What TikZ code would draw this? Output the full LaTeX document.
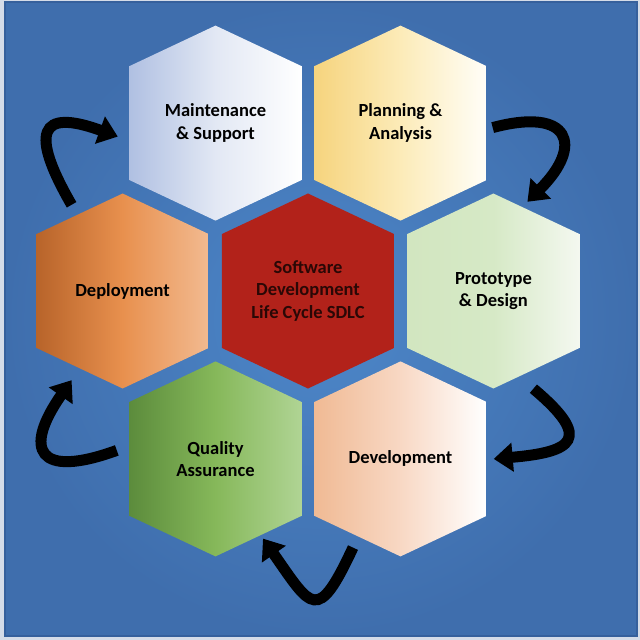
\documentclass[tikz,border=0pt]{standalone}
\usepackage{fontspec}
\setmainfont{Carlito}
\usetikzlibrary{positioning,calc,arrows.meta}

\definecolor{framegray}{HTML}{D5DCE8}
\definecolor{bginner}{HTML}{4D87C9}
\definecolor{bgouter}{HTML}{3F6EAD}
\definecolor{bgline}{HTML}{36609C}
\definecolor{sdlcred}{HTML}{B2221A}
\definecolor{sdlctext}{HTML}{2A0806}
\definecolor{deployL}{HTML}{B8642A}
\definecolor{deployM}{HTML}{E8904E}
\definecolor{deployR}{HTML}{F2BA90}
\definecolor{protoL}{HTML}{D2E6C0}
\definecolor{protoM}{HTML}{D6E9C6}
\definecolor{protoR}{HTML}{F4F8F0}
\definecolor{maintL}{HTML}{B0C0E2}
\definecolor{maintM}{HTML}{E2E8F4}
\definecolor{planL}{HTML}{F6D47E}
\definecolor{planM}{HTML}{FCEBB8}
\definecolor{planR}{HTML}{FFFEF8}
\definecolor{qaL}{HTML}{5C8C3C}
\definecolor{qaM}{HTML}{86B85A}
\definecolor{qaR}{HTML}{B0D494}
\definecolor{devL}{HTML}{F0BA94}
\definecolor{devM}{HTML}{F8D8C4}

\tikzset{
  hexcell/.style n args={3}{minimum width=172pt, minimum height=195pt,
    inner sep=0pt, align=center, text=black,
    font=\bfseries\fontsize{18.5}{22.5}\selectfont,
    path picture={\shade[left color=#1, right color=#3, middle color=#2]
      (path picture bounding box.north)
      -- ([yshift=-40.5pt]path picture bounding box.north east)
      -- ([yshift=40.5pt]path picture bounding box.south east)
      -- (path picture bounding box.south)
      -- ([yshift=40.5pt]path picture bounding box.south west)
      -- ([yshift=-40.5pt]path picture bounding box.north west) -- cycle;}},
  cyclearrow/.style={line width=11pt, black, -{Triangle[length=19pt,width=28pt]}},
}

\begin{document}
\begin{tikzpicture}[x=1pt, y=1pt]
    % background
    \useasboundingbox (-308,-349) rectangle (332,291);
    \fill[framegray] (-308,-349) rectangle (332,291);
    \shade[inner color=bginner, outer color=bgouter, draw=bgline, line width=1.5pt]
      (-303,-345) rectangle (329,289);

    % center
    \node[hexcell={sdlcred}{sdlcred}{sdlcred}, text=sdlctext] (sdlc) at (0,0)
      {Software\\Development\\Life Cycle SDLC};
    % middle row
    \node[hexcell={deployL}{deployM}{deployR}, left=13pt of sdlc] (deploy) {Deployment};
    \node[hexcell={protoL}{protoM}{protoR}, right=13pt of sdlc] (proto) {Prototype\\\& Design};
    % top row
    \node[hexcell={maintL}{maintM}{white}, above=-27.5pt of sdlc, xshift=-92.5pt] (maint) {Maintenance\\\& Support};
    \node[hexcell={planL}{planM}{planR}, above=-27.5pt of sdlc, xshift=92.5pt] (plan) {Planning \&\\Analysis};
    % bottom row
    \node[hexcell={qaL}{qaM}{qaR}, below=-27.5pt of sdlc, xshift=-92.5pt] (qa) {Quality\\Assurance};
    \node[hexcell={devL}{devM}{white}, below=-27.5pt of sdlc, xshift=92.5pt] (dev) {Development};

    % cycle arrows
    \draw[cyclearrow] ([shift={(6,-4.5)}]plan.east) to[out=15, in=45, looseness=2.5] ([shift={(34,-8.5)}]proto.north);
    \draw[cyclearrow] ([xshift=40]proto.south) to[out=-40, in=5, looseness=2.5] ([xshift=7]dev.east);
    \draw[cyclearrow] ([shift={(-47.5,9)}]dev.south) to[out=-115, in=-55, looseness=2.4] ([shift={(47.5,18)}]qa.south);
    \draw[cyclearrow] ([shift={(-12.5,8.5)}]qa.west) to[out=200, in=235, looseness=2.6] ([shift={(-51,8.5)}]deploy.south);
    \draw[cyclearrow] ([shift={(-51,-11.5)}]deploy.north) to[out=120, in=160, looseness=2.6] ([shift={(-11.5,-13.5)}]maint.west);
\end{tikzpicture}
\end{document}
